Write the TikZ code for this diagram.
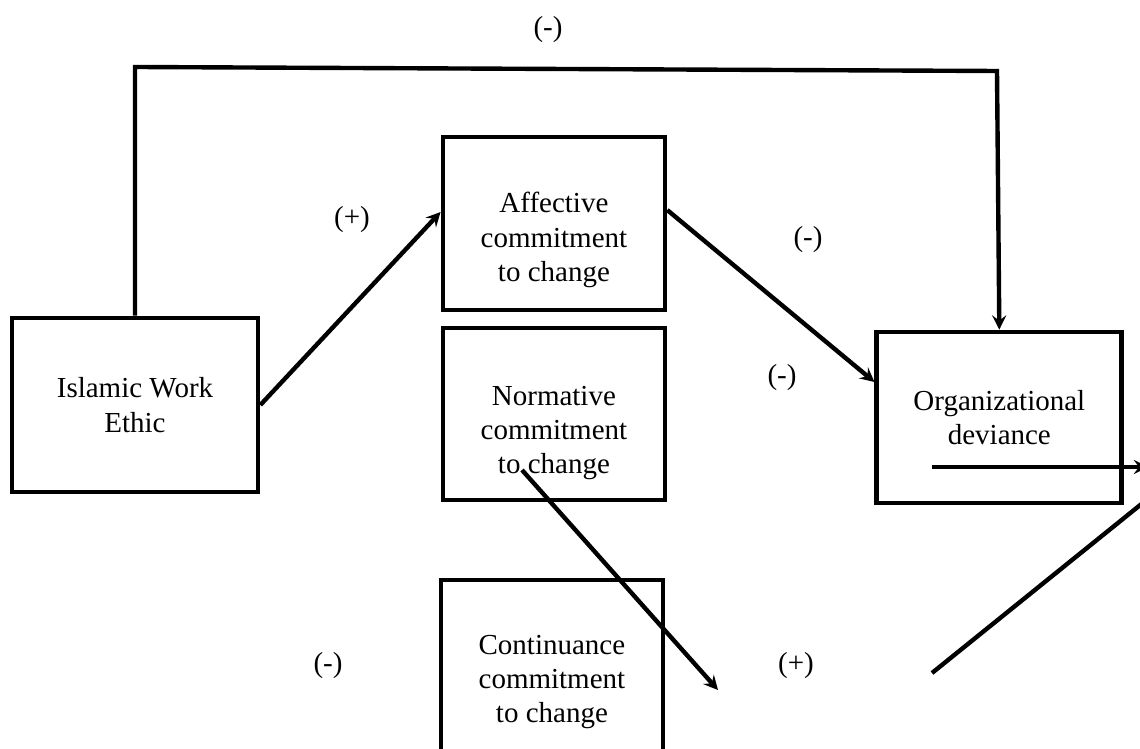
\documentclass[tikz,border=0pt]{standalone}
\usepackage{fontspec}
\setmainfont{Liberation Serif}
\usepackage{tikz}
\usetikzlibrary{arrows,positioning}
\tikzstyle{box}=[draw,rectangle,line width=2.7pt,align=center]
\tikzstyle{link}=[->,line width=2.5pt,line join=miter]
\tikzstyle{sign}=[inner sep=1pt]

\begin{document}
\begin{tikzpicture}[
        x=0.02cm,
        y=-0.02cm,
        node distance=1cm,
        >=stealth,
        font=\fontsize{16.5}{19.5}\selectfont
        ]
        \clip (0,0) rectangle (1140,749);
        \node[box, minimum width=4.92cm, minimum height=3.48cm](iwe) at (135,405) {Islamic Work\\Ethic};
        \node[box, minimum width=4.44cm, minimum height=3.46cm](aff) [right of=iwe, xshift=7.38cm, yshift=3.63cm] {\mbox{}\\[11pt]Affective\\commitment\\to change};
        \node[box, minimum width=4.44cm, minimum height=3.44cm](norm) [below of=aff, yshift=-2.81cm] {\mbox{}\\[13pt]Normative\\commitment\\to change};
        \node[box, minimum width=4.44cm, minimum height=4.08cm](cont) [below of=norm, xshift=-0.04cm, yshift=-4.36cm] {Continuance\\commitment\\to change};
        \node[box, minimum width=4.9cm, minimum height=3.42cm](org) [right of=norm, xshift=7.91cm, yshift=-0.07cm] {Organizational\\deviance};
        % free ends
        \coordinate (tl) at (135,67);
        \coordinate (tr) at (997,71);
        \coordinate (nstart) at (522,470);
        \coordinate (nend) at (718,690);
        \coordinate (dstart) at (932,467);
        \coordinate (dend) at (1148,467);
        \coordinate (cstart) at (932,673);
        \coordinate (cend) at (1165,485);
        \draw[link] (iwe.east) -- ([yshift=0.23cm]aff.west);
        \draw[link] ([yshift=0.27cm]aff.east) -- ([yshift=0.71cm]org.west);
        \draw[link] (iwe.north) -- (tl) -- (tr) -- (org.north);
        \draw[link] (nstart) -- (nend);
        \draw[link] (dstart) -- (dend);
        \draw[link] (cstart) -- (cend);
        % signs
        \node[sign](s0) at (548,30) {(-)};
        \node[sign](s1) at (352,220) {(+)};
        \node[sign](s2) at (808,240) {(-)};
        \node[sign](s3) at (782,378) {(-)};
        \node[sign](s4) at (328,666) {(-)};
        \node[sign](s5) at (796,666) {(+)};
\end{tikzpicture}
\end{document}
